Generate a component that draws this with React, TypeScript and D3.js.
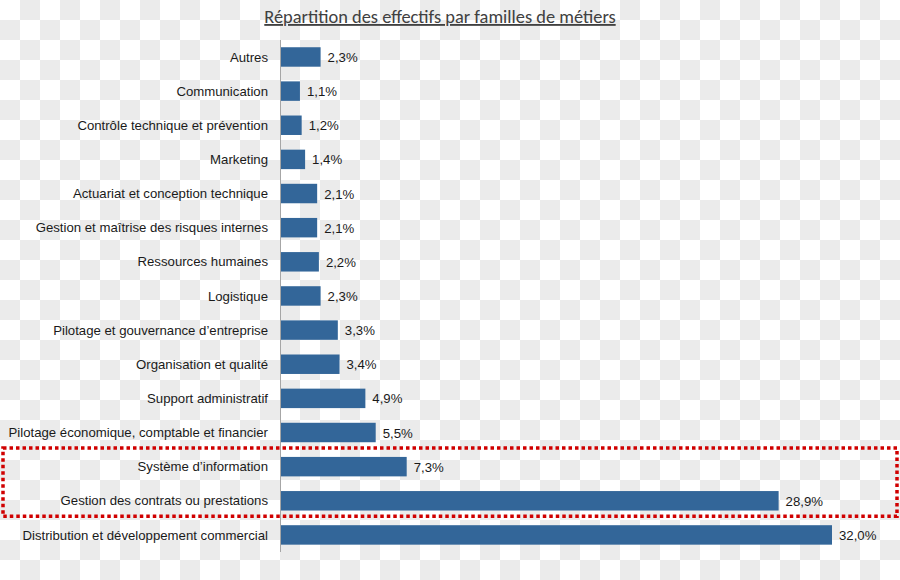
import React from "react";
import * as d3 from "d3";

const categories = [
  "Autres",
  "Communication",
  "Contrôle technique et prévention",
  "Marketing",
  "Actuariat et conception technique",
  "Gestion et maîtrise des risques internes",
  "Ressources humaines",
  "Logistique",
  "Pilotage et gouvernance d’entreprise",
  "Organisation et qualité",
  "Support administratif",
  "Pilotage économique, comptable et financier",
  "Système d’information",
  "Gestion des contrats ou prestations",
  "Distribution et développement commercial",
];

const values = [2.3, 1.1, 1.2, 1.4, 2.1, 2.1, 2.2, 2.3, 3.3, 3.4, 4.9, 5.5, 7.3, 28.9, 32.0];

const highlighted = ["Système d’information", "Gestion des contrats ou prestations"];

const title = "Répartition des effectifs par familles de métiers";

const W = 900;
const H = 580;

export default function App() {
  const x = d3.scaleLinear().domain([0, 32]).range([281, 832]);
  const y = d3
    .scaleBand<string>()
    .domain(categories)
    .range([39.9, 552])
    .paddingInner(0.43)
    .paddingOuter(0.215);

  const fmt = (v: number) => v.toFixed(1).replace(".", ",") + "%";

  const gap = (y.step() - y.bandwidth()) / 2;
  const hy0 = y(highlighted[0])! - gap - 1.5;
  const hy1 = y(highlighted[1])! + y.bandwidth() + gap - 1.5;

  return (
    <svg
      width={W}
      height={H}
      style={{ position: "absolute", left: 0, top: 0, display: "block" }}
      fontFamily="'Liberation Sans', Arial, sans-serif"
    >
      <defs>
        <pattern id="checker" width={40} height={40} patternUnits="userSpaceOnUse">
          <rect x={0} y={0} width={40} height={40} fill="#ffffff" />
          <rect x={20} y={0} width={20} height={20} fill="#ebebeb" />
          <rect x={0} y={20} width={20} height={20} fill="#ebebeb" />
        </pattern>
      </defs>
      <rect x={0} y={0} width={W} height={H} fill="url(#checker)" />

      <text
        x={440}
        y={23}
        textAnchor="middle"
        fontFamily="Carlito, Lato, 'Open Sans', sans-serif"
        fontSize={18.4}
        fill="#404040"
        textDecoration="underline"
      >
        {title}
      </text>

      {categories.map((c, i) => {
        const yy = y(c)!;
        const bw = y.bandwidth();
        return (
          <g key={c}>
            <rect x={x(0)} y={yy} width={x(values[i]) - x(0)} height={bw} fill="#336699" />
            <text x={268} y={yy + bw / 2 + 4.6} textAnchor="end" fontSize={13.2} fill="#1a1a1a">
              {c}
            </text>
            <text x={x(values[i]) + 7} y={yy + bw / 2 + 5} fontSize={13.2} fill="#1a1a1a">
              {fmt(values[i])}
            </text>
          </g>
        );
      })}

      <line x1={280.5} x2={280.5} y1={40} y2={552} stroke="#a6a6a6" strokeWidth={1} />

      <rect
        x={3}
        y={hy0}
        width={894}
        height={hy1 - hy0}
        fill="none"
        stroke="#d00000"
        strokeWidth={3.5}
        strokeDasharray="3.5,3"
      />
    </svg>
  );
}
